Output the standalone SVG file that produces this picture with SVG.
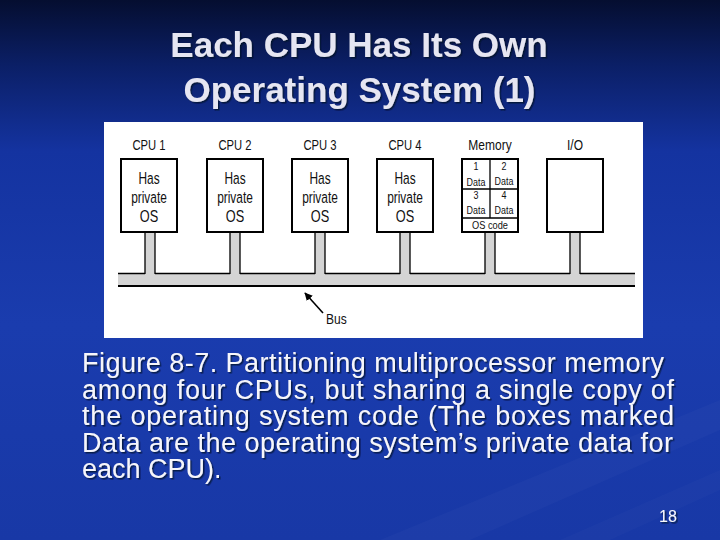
<svg xmlns="http://www.w3.org/2000/svg" width="720" height="540" viewBox="0 0 720 540">
  <defs>
    <linearGradient id="bg" x1="0" y1="0" x2="0" y2="1">
      <stop offset="0" stop-color="#050e30"/>
      <stop offset="0.12" stop-color="#0b1f66"/>
      <stop offset="0.28" stop-color="#1433a0"/>
      <stop offset="0.6" stop-color="#1a3cae"/>
      <stop offset="1" stop-color="#1838a6"/>
    </linearGradient>
    <filter id="shadow" x="-5%" y="-20%" width="110%" height="140%">
      <feDropShadow dx="1.5" dy="1.5" stdDeviation="0.6" flood-color="#000820" flood-opacity="0.7"/>
    </filter>
    <marker id="arrow" viewBox="0 0 10 10" refX="9" refY="5" markerWidth="8" markerHeight="8" markerUnits="userSpaceOnUse" orient="auto">
      <path d="M0,0 L10,5 L0,10 Z" fill="#000"/>
    </marker>
  </defs>
  <style>
    .title { font-family: "Liberation Sans", Arial, sans-serif; font-weight: bold; font-size: 35px; fill: #e6e6f2; text-anchor: middle; }
    .caption { font-family: "Liberation Sans", Arial, sans-serif; font-size: 27px; fill: #f6f6fb; }
    .pnum { font-family: "Liberation Sans", Arial, sans-serif; font-size: 16px; fill: #f6f6fb; }
    .hdr { font-family: "Liberation Sans", Arial, sans-serif; font-size: 15px; fill: #111; text-anchor: middle; }
    .inbox { font-family: "Liberation Sans", Arial, sans-serif; font-size: 17px; fill: #111; text-anchor: middle; }
    .cell { font-family: "Liberation Sans", Arial, sans-serif; font-size: 10.5px; fill: #111; text-anchor: middle; }
    .box { fill: #fff; stroke: #000; stroke-width: 2; }
    .stem { fill: #d4d4d4; }
    .edge { stroke: #000; stroke-width: 1.3; fill: none; }
  </style>

  <rect x="0" y="0" width="720" height="540" fill="url(#bg)"/>
  <polygon points="380,540 720,400 720,430 470,540" fill="#ffffff" opacity="0.025"/>
  <polygon points="560,540 720,470 720,490 610,540" fill="#ffffff" opacity="0.02"/>

  <g id="title" filter="url(#shadow)">
    <text class="title" x="359" y="57">Each CPU Has Its Own</text>
    <text class="title" x="359.5" y="102">Operating System (1)</text>
  </g>

  <rect id="panel" x="104" y="122" width="539" height="216" fill="#fff"/>

  <g id="connectors">
    <rect x="118" y="273" width="517" height="13" fill="#d4d4d4"/>
    <path class="edge" d="M118,273.5 H145 M155,273.5 H230 M240,273.5 H315 M325,273.5 H400 M410,273.5 H485 M495,273.5 H570 M580,273.5 H635"/>
    <line x1="118" y1="286" x2="635" y2="286" stroke="#000" stroke-width="2.2"/>
    <rect class="stem" x="145" y="232" width="10" height="42"/>
    <rect class="stem" x="230" y="232" width="10" height="42"/>
    <rect class="stem" x="315" y="232" width="10" height="42"/>
    <rect class="stem" x="400" y="232" width="10" height="42"/>
    <rect class="stem" x="485" y="232" width="10" height="42"/>
    <rect class="stem" x="570" y="232" width="10" height="42"/>
    <path class="edge" d="M145,232 V274 M155,232 V274 M230,232 V274 M240,232 V274 M315,232 V274 M325,232 V274 M400,232 V274 M410,232 V274 M485,232 V274 M495,232 V274 M570,232 V274 M580,232 V274"/>
  </g>

  <g id="cpu1">
    <text class="hdr" transform="translate(149,150) scale(0.75,1)">CPU 1</text>
    <rect class="box" x="121" y="159" width="56" height="73"/>
    <text class="inbox" transform="translate(149,184) scale(0.7,1)">Has</text>
    <text class="inbox" transform="translate(149,203) scale(0.7,1)">private</text>
    <text class="inbox" transform="translate(149,222) scale(0.75,1)">OS</text>
  </g>
  <g id="cpu2">
    <text class="hdr" transform="translate(235,150) scale(0.75,1)">CPU 2</text>
    <rect class="box" x="207" y="159" width="56" height="73"/>
    <text class="inbox" transform="translate(235,184) scale(0.7,1)">Has</text>
    <text class="inbox" transform="translate(235,203) scale(0.7,1)">private</text>
    <text class="inbox" transform="translate(235,222) scale(0.75,1)">OS</text>
  </g>
  <g id="cpu3">
    <text class="hdr" transform="translate(320,150) scale(0.75,1)">CPU 3</text>
    <rect class="box" x="292" y="159" width="56" height="73"/>
    <text class="inbox" transform="translate(320,184) scale(0.7,1)">Has</text>
    <text class="inbox" transform="translate(320,203) scale(0.7,1)">private</text>
    <text class="inbox" transform="translate(320,222) scale(0.75,1)">OS</text>
  </g>
  <g id="cpu4">
    <text class="hdr" transform="translate(405,150) scale(0.75,1)">CPU 4</text>
    <rect class="box" x="377" y="159" width="56" height="73"/>
    <text class="inbox" transform="translate(405,184) scale(0.7,1)">Has</text>
    <text class="inbox" transform="translate(405,203) scale(0.7,1)">private</text>
    <text class="inbox" transform="translate(405,222) scale(0.75,1)">OS</text>
  </g>
  <g id="memory">
    <text class="hdr" transform="translate(490,150) scale(0.8,1)">Memory</text>
    <rect class="box" x="462" y="159" width="56" height="73"/>
    <path d="M462,189 H518 M462,218 H518 M490,159 V218" stroke="#000" stroke-width="1.3" fill="none"/>
    <text class="cell" transform="translate(476,170) scale(0.85,1)">1</text>
    <text class="cell" transform="translate(476,186) scale(0.85,1)">Data</text>
    <text class="cell" transform="translate(504,170) scale(0.85,1)">2</text>
    <text class="cell" transform="translate(504,185) scale(0.85,1)">Data</text>
    <text class="cell" transform="translate(476,199) scale(0.85,1)">3</text>
    <text class="cell" transform="translate(476,214) scale(0.85,1)">Data</text>
    <text class="cell" transform="translate(504,199) scale(0.85,1)">4</text>
    <text class="cell" transform="translate(504,214) scale(0.85,1)">Data</text>
    <text class="cell" transform="translate(490,229) scale(0.88,1)">OS code</text>
  </g>
  <g id="io">
    <text class="hdr" transform="translate(575,150) scale(0.8,1)">I/O</text>
    <rect class="box" x="547" y="159" width="56" height="73"/>
  </g>

  <g id="bus-label">
    <line x1="323" y1="313" x2="305" y2="293" stroke="#000" stroke-width="1.6" marker-end="url(#arrow)"/>
    <text class="hdr" style="text-anchor:start" transform="translate(326,324) scale(0.8,1)">Bus</text>
  </g>

  <g id="caption" filter="url(#shadow)">
    <text class="caption" x="82" y="372" textLength="582" lengthAdjust="spacing">Figure 8-7. Partitioning multiprocessor memory</text>
    <text class="caption" x="82" y="399" textLength="592" lengthAdjust="spacing">among four CPUs, but sharing a single copy of</text>
    <text class="caption" x="82" y="425" textLength="592" lengthAdjust="spacing">the operating system code (The boxes marked</text>
    <text class="caption" x="82" y="452" textLength="591" lengthAdjust="spacing">Data are the operating system’s private data for</text>
    <text class="caption" x="82" y="478">each CPU).</text>
  </g>

  <text class="pnum" x="659" y="522" filter="url(#shadow)">18</text>
</svg>
